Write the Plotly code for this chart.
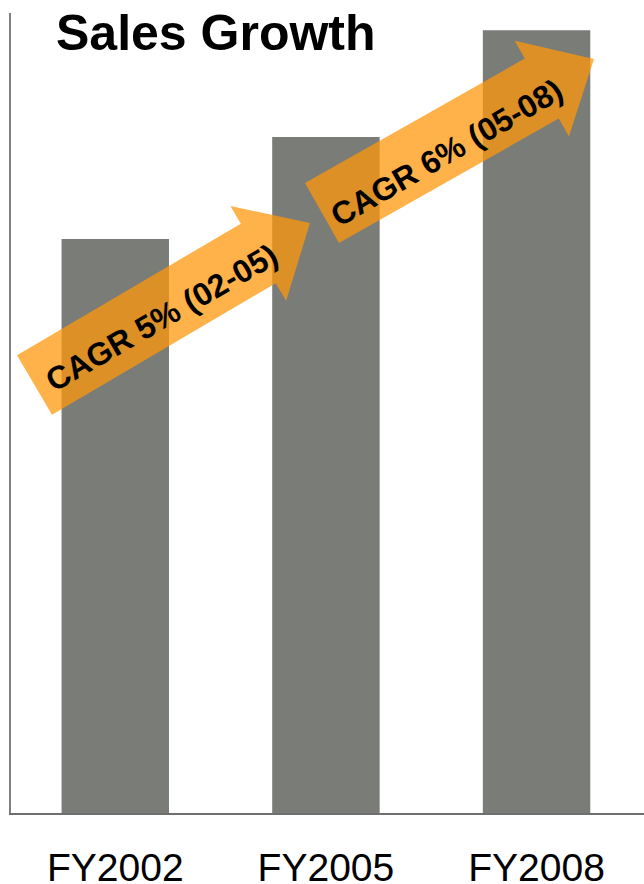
import math
import plotly.graph_objects as go

# ---- data ----
years = ["FY2002", "FY2005", "FY2008"]
sales_index = [100.0, 117.8, 136.4]
cagr_labels = ["CAGR 5% (02-05)", "CAGR 6% (05-08)"]
title_text = "Sales Growth"

# ---- layout geometry (pixels) ----
W, H = 644, 884
ML, MR, MT, MB = 11, 0, 13, 71
PW, PH = W - ML - MR, H - MT - MB

def px_to_paper(x, y):
    return (x - ML) / PW, (H - MB - y) / PH

# arrows: tail centre, tip, shaft width, head width, head length (pixels)
arrow_geom = [
    dict(tail=(34.5, 385), tip=(310, 223), shaft=69, headw=110, headl=60, text_at=(161, 318)),
    dict(tail=(322, 213), tip=(594, 59), shaft=69, headw=110, headl=60, text_at=(446, 153)),
]

def arrow_path(g):
    tx, ty = g["tail"]
    hx, hy = g["tip"]
    dx, dy = hx - tx, hy - ty
    L = math.hypot(dx, dy)
    ux, uy = dx / L, dy / L
    nx, ny = -uy, ux
    bx, by = hx - ux * g["headl"], hy - uy * g["headl"]
    s, hw = g["shaft"] / 2, g["headw"] / 2
    pts = [
        (tx + nx * s, ty + ny * s),
        (bx + nx * s, by + ny * s),
        (bx + nx * hw, by + ny * hw),
        (hx, hy),
        (bx - nx * hw, by - ny * hw),
        (bx - nx * s, by - ny * s),
        (tx - nx * s, ty - ny * s),
    ]
    pp = [px_to_paper(x, y) for x, y in pts]
    return "M " + " L ".join(f"{x:.5f},{y:.5f}" for x, y in pp) + " Z"

fig = go.Figure(
    go.Bar(
        x=years,
        y=sales_index,
        marker=dict(color="#7a7c78", line=dict(width=0)),
        width=0.51,
        hoverinfo="x+y",
    )
)

shapes = []
annotations = []
for g, label in zip(arrow_geom, cagr_labels):
    shapes.append(dict(
        type="path", xref="paper", yref="paper", path=arrow_path(g),
        fillcolor="rgba(255,151,10,0.74)", line=dict(width=0), layer="above",
    ))
    ax, ay = px_to_paper(*g["text_at"])
    annotations.append(dict(
        x=ax, y=ay, xref="paper", yref="paper", text=f"<b>{label}</b>",
        showarrow=False, textangle=-30, xanchor="center", yanchor="middle",
        font=dict(family="Liberation Sans, Arial", size=32, color="black"),
    ))

tx, ty = px_to_paper(54, 33)
annotations.append(dict(
    x=tx, y=ty, xref="paper", yref="paper", text=f"<b>{title_text}</b>",
    showarrow=False, xanchor="left", yanchor="middle",
    font=dict(family="Liberation Sans, Arial", size=50, color="black"),
))

fig.update_layout(
    width=W, height=H,
    margin=dict(l=ML, r=MR, t=MT, b=MB, pad=0, autoexpand=False),
    paper_bgcolor="white", plot_bgcolor="white",
    showlegend=False,
    shapes=shapes, annotations=annotations,
    xaxis=dict(
        range=[-0.495, 2.51], showgrid=False, zeroline=False,
        showline=True, linecolor="#6f6f6f", linewidth=2,
        ticks="", ticklabelstandoff=19, automargin=False,
        tickfont=dict(family="Liberation Sans, Arial", size=39, color="black"),
    ),
    yaxis=dict(
        range=[0, 139.4], showgrid=False, zeroline=False,
        showline=True, linecolor="#7f7f7f", linewidth=2,
        showticklabels=False, ticks="", automargin=False,
    ),
)

fig.write_html(
    "out.html",
    config={"displayModeBar": False},
    post_script="document.body.style.margin='0';document.body.style.overflow='hidden';",
)
